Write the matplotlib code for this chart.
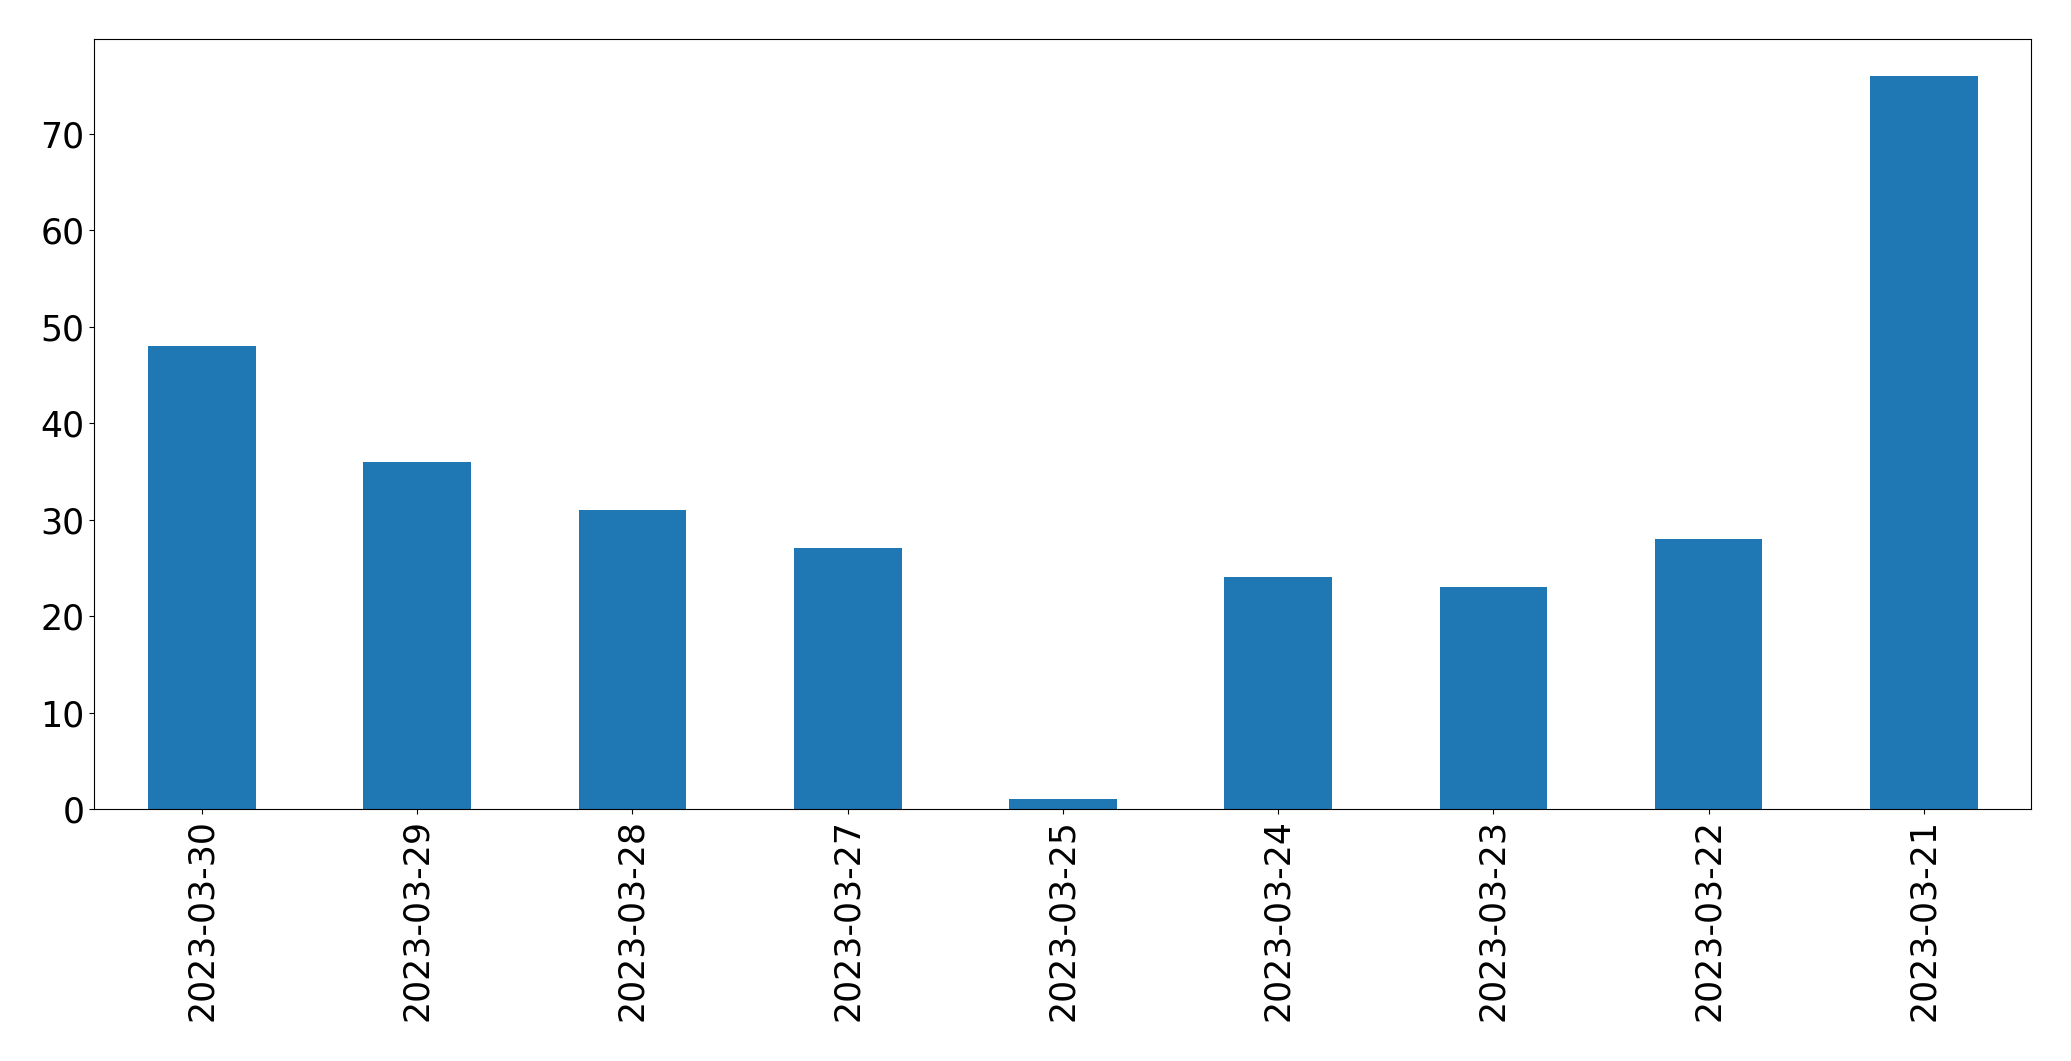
import matplotlib
matplotlib.use("Agg")
import matplotlib.pyplot as plt
import pandas as pd

dates = ["2023-03-30", "2023-03-29", "2023-03-28", "2023-03-27", "2023-03-25",
         "2023-03-24", "2023-03-23", "2023-03-22", "2023-03-21"]
counts = [48, 36, 31, 27, 1, 24, 23, 28, 76]

s = pd.Series(counts, index=dates)

fig = plt.figure(figsize=(20.71, 10.61), dpi=100)
ax = fig.add_axes([0.0456, 0.2375, 0.9353, 0.7257])
s.plot(kind="bar", ax=ax, color="#1f77b4", fontsize=25)
ax.tick_params(axis="both", labelsize=25)

fig.savefig("out.png", dpi=100)
